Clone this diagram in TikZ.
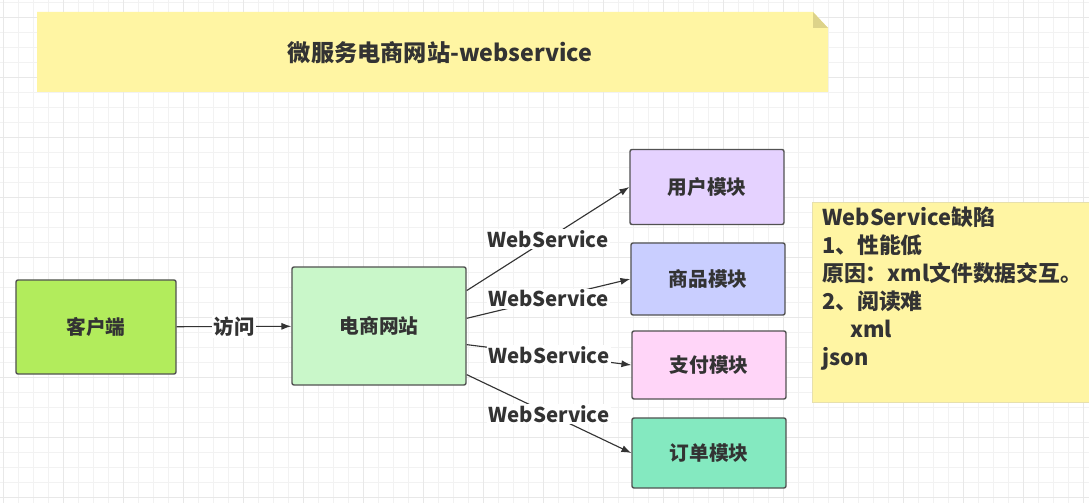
\documentclass[tikz,border=0pt]{standalone}
\usepackage{fontspec}
\setmainfont{Noto Sans CJK SC}
\usetikzlibrary{arrows.meta}

\definecolor{ink}{HTML}{333333}
\definecolor{notefill}{HTML}{FFF5A3}
\definecolor{notefold}{HTML}{DDD38A}
\definecolor{clientfill}{HTML}{B2EC5C}
\definecolor{sitefill}{HTML}{C9F7C9}
\definecolor{userfill}{HTML}{E5D2FF}
\definecolor{goodsfill}{HTML}{C9CEFF}
\definecolor{payfill}{HTML}{FFD5F8}
\definecolor{orderfill}{HTML}{84E9C0}

\begin{document}
\begin{tikzpicture}[x=0.025cm, y=-0.025cm,
  gridminor/.style={draw=black!5, line width=0.4pt},
  gridmajor/.style={draw=black!9, line width=0.5pt},
  box/.style={draw=ink!85, line width=1pt, rounded corners=1.5pt, text=ink,
    font=\bfseries\fontsize{14}{16}\selectfont},
  module/.style={box, minimum width=3.85cm, minimum height=1.8cm},
  link/.style={draw=ink, line width=0.8pt, -{Latex[length=7pt,width=5pt]}},
  linklabel/.style={fill=white, inner sep=1pt, text=ink,
    font=\bfseries\fontsize{14.5}{16}\selectfont}]

\useasboundingbox (0,0) rectangle (1089,503);
\fill[white] (0,0) rectangle (1089,503);

% background grid
\foreach \gx in {3,18,...,1089} \draw[gridminor] (\gx,0) -- (\gx,503);
\foreach \gy in {2,17,...,503} \draw[gridminor] (0,\gy) -- (1089,\gy);
\foreach \gx in {3,63,...,1089} \draw[gridmajor] (\gx,0) -- (\gx,503);
\foreach \gy in {17,77,...,503} \draw[gridmajor] (0,\gy) -- (1089,\gy);

% title note
\fill[notefill] (37,12) -- (813,12) -- (828,28) -- (828,92) -- (37,92) -- cycle;
\fill[notefold] (813,12) -- (828,28) -- (813,28) -- cycle;
\node [text=ink, font=\bfseries\fontsize{16.5}{18}\selectfont] (title) at (440,53) {微服务电商网站-webservice};

% boxes
\node [box, fill=clientfill, minimum width=4cm, minimum height=2.35cm] (client) at (96,327) {客户端};
\node [box, fill=sitefill, minimum width=4.35cm, minimum height=2.95cm] (site) at (379,326) {电商网站};
\node [module, fill=userfill, minimum height=1.875cm] (user) at (707,187) {用户模块};
\node [module, fill=goodsfill] (goods) at (708,279) {商品模块};
\node [module, fill=payfill, minimum height=1.7cm] (pay) at (709,365) {支付模块};
\node [module, fill=orderfill, minimum height=1.75cm] (order) at (709,453) {订单模块};

\path [link] (client) -- node [linklabel] {访问} (site);
\path [link] (site.22) -- node [linklabel] {WebService} (user.west);
\path [link] (site.5) -- node [linklabel] {WebService} (goods.west);
\path [link] (site.-12) -- node [linklabel] {WebService} (pay.west);
\path [link] (site.-29) -- node [linklabel] {WebService} (order.west);

% defects note
\draw [fill=notefill, draw=notefold!70, line width=0.6pt] (812,202) rectangle (1100,402);
\node [anchor=north west, align=left, text=ink, inner sep=0pt,
  font=\bfseries\fontsize{15.5}{19.9}\selectfont] (defects) at (822,207)
  {WebService缺陷\\1、性能低\\原因：xml文件数据交互。\\2、阅读难\\\hspace*{0.7cm}xml\\json};

\end{tikzpicture}
\end{document}
